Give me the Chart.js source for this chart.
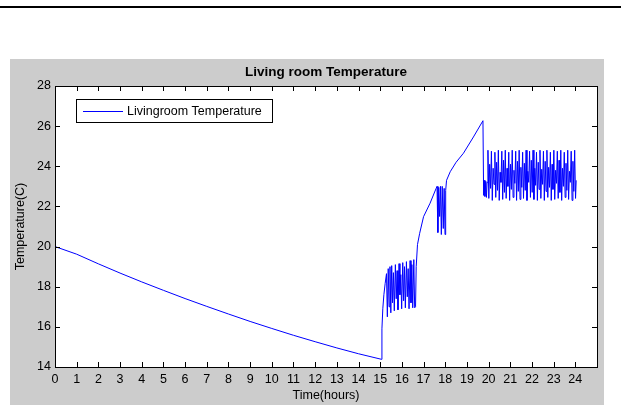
<!DOCTYPE html>
<html>
<head>
<meta charset="utf-8">
<title>Living room Temperature</title>
<script src="https://cdn.jsdelivr.net/npm/chart.js@4.4.1/dist/chart.umd.min.js"></script>
<style>
    html, body { margin: 0; padding: 0; background: #fff; }
    canvas { display: block; }
</style>
</head>
<body>
<canvas id="tempChart" width="621" height="405"></canvas>
<script>
// Text
const chartTitle = 'Living room Temperature';
const seriesLabel = 'Livingroom Temperature';
const xTitle = 'Time(hours)';
const yTitle = 'Temperature(C)';

// Tick labels
const xTicks = [0, 1, 2, 3, 4, 5, 6, 7, 8, 9, 10, 11, 12, 13, 14, 15, 16, 17, 18, 19, 20, 21, 22, 23, 24];
const yTicks = [14, 16, 18, 20, 22, 24, 26, 28];

// Night cooling, heating off
const coolingHours = [0, 1, 2, 3, 4, 5, 6, 7, 8, 9, 10, 11, 12, 13, 14, 15.07];
const coolingTemps = [20.00, 19.62, 19.14, 18.68, 18.24, 17.82, 17.41, 17.02, 16.64, 16.27, 15.92, 15.58, 15.26, 14.95, 14.66, 14.38];

// Heating switched on, first two thermostat bands, warm-up to peak
const warmupHours = [15.08, 15.12, 15.17, 15.23, 15.29,
    15.33, 15.37, 15.41, 15.45, 15.49, 15.53, 15.57, 15.61, 15.65, 15.70, 15.74, 15.78, 15.82, 15.87, 15.91,
    15.95, 15.99, 16.04, 16.08, 16.12, 16.16, 16.21, 16.25, 16.29, 16.33, 16.38, 16.42, 16.46, 16.50, 16.55, 16.59,
    16.63, 16.66, 16.72, 16.82, 17.00, 17.30, 17.58,
    17.62, 17.66, 17.70, 17.74, 17.78, 17.82, 17.86, 17.91, 17.95, 17.99, 18.02,
    18.06, 18.23, 18.50, 18.84, 19.30, 19.74, 19.77];
const warmupTemps = [15.90, 16.90, 17.60, 18.17, 18.65,
    16.50, 18.90, 17.00, 19.00, 16.70, 19.05, 17.20, 18.70, 16.80, 19.10, 17.40, 18.80, 16.85, 19.15, 17.60,
    18.60, 16.90, 19.20, 17.30, 19.00, 16.95, 19.25, 17.50, 18.90, 16.90, 19.30, 17.20, 19.10, 16.95, 19.35, 16.95,
    17.00, 19.00, 20.10, 20.66, 21.49, 22.16, 22.90,
    23.00, 20.70, 22.95, 21.50, 23.00, 20.60, 23.00, 20.90, 22.90, 20.60, 22.80,
    23.30, 23.73, 24.20, 24.65, 25.46, 26.27, 22.55];

// Evening thermostat cycling
const cycleHours = [19.80, 19.83, 19.87, 19.90, 19.93,
    19.97, 20.01, 20.05, 20.09, 20.13, 20.17, 20.21, 20.25, 20.29, 20.33, 20.37, 20.41, 20.45, 20.49, 20.53, 20.57,
    20.61, 20.65, 20.69, 20.73, 20.77, 20.81, 20.85, 20.89, 20.93, 20.97, 21.01, 21.05, 21.09, 21.13, 21.17, 21.21,
    21.25, 21.29, 21.33, 21.37, 21.41, 21.45, 21.49, 21.53, 21.57, 21.61, 21.65, 21.69, 21.73, 21.77, 21.81, 21.85,
    21.89, 21.93, 21.97, 22.01, 22.05, 22.09, 22.13, 22.17, 22.21, 22.25, 22.29, 22.33, 22.37, 22.41, 22.45, 22.49,
    22.53, 22.57, 22.61, 22.65, 22.69, 22.73, 22.77, 22.81, 22.85, 22.89, 22.93, 22.97, 23.01, 23.05, 23.09, 23.13,
    23.17, 23.21, 23.25, 23.29, 23.33, 23.37, 23.41, 23.45, 23.49, 23.53, 23.57, 23.61, 23.65, 23.69, 23.73, 23.77,
    23.81, 23.85, 23.89, 23.93, 23.97, 24.01, 24.04];
const cycleTemps = [23.30, 22.50, 23.25, 22.45, 23.20,
    24.80, 22.40, 24.10, 22.90, 24.75, 22.30, 23.90, 23.10, 24.70, 22.45, 24.20, 22.80, 24.80, 22.30, 23.70, 23.20,
    24.75, 22.35, 24.30, 22.70, 24.80, 22.40, 23.90, 23.00, 24.70, 22.30, 24.10, 22.85, 24.80, 22.45, 23.80, 23.15,
    24.75, 22.30, 24.25, 22.75, 24.80, 22.35, 23.95, 22.95, 24.70, 22.40, 24.15, 22.80, 24.80, 22.30, 23.75, 23.20,
    24.75, 22.45, 24.30, 22.70, 24.80, 22.35, 23.90, 23.05, 24.70, 22.30, 24.20, 22.85, 24.80, 22.40, 23.85, 23.10,
    24.75, 22.30, 24.25, 22.75, 24.80, 22.45, 23.95, 22.95, 24.70, 22.30, 24.10, 22.85, 24.80, 22.35, 23.80, 23.15,
    24.75, 22.40, 24.30, 22.70, 24.80, 22.30, 23.90, 23.00, 24.70, 22.45, 24.15, 22.80, 24.80, 22.35, 23.75, 23.20,
    24.75, 22.30, 24.25, 22.75, 24.80, 22.40, 23.30];

const hours = coolingHours.concat(warmupHours, cycleHours);
const temps = coolingTemps.concat(warmupTemps, cycleTemps);

const textFont = { family: 'Liberation Sans, Arial, sans-serif', size: 12.5 };
const textColor = '#000';

// Figure background, inward ticks, boxed legend (MATLAB look)
const figurePlugin = {
    id: 'figure',
    beforeDraw(chart) {
        const { ctx, chartArea: a, width, height } = chart;
        ctx.save();
        ctx.fillStyle = '#fff';
        ctx.fillRect(0, 0, width, height);
        ctx.fillStyle = '#000';
        ctx.fillRect(0, 6, width, 2);
        ctx.fillStyle = '#cccccc';
        ctx.fillRect(10, 59, 594, height - 59);
        ctx.fillStyle = '#fff';
        ctx.fillRect(a.left, a.top, a.right - a.left, a.bottom - a.top);
        ctx.restore();
    },
    afterDraw(chart) {
        const { ctx, chartArea: a, scales } = chart;
        ctx.save();
        ctx.strokeStyle = '#000';
        ctx.lineWidth = 1;
        ctx.strokeRect(a.left + 0.5, a.top + 0.5, a.right - a.left, a.bottom - a.top);

        ctx.beginPath();
        xTicks.forEach(v => {
            const px = Math.round(scales.x.getPixelForValue(v)) + 0.5;
            ctx.moveTo(px, a.bottom); ctx.lineTo(px, a.bottom - 5);
            ctx.moveTo(px, a.top); ctx.lineTo(px, a.top + 5);
        });
        yTicks.forEach(v => {
            const py = Math.round(scales.y.getPixelForValue(v)) + 0.5;
            ctx.moveTo(a.left, py); ctx.lineTo(a.left + 5, py);
            ctx.moveTo(a.right, py); ctx.lineTo(a.right - 5, py);
        });
        ctx.stroke();

        // legend box
        const ds = chart.data.datasets[0];
        const lx = a.left + 21, ly = a.top + 13;
        ctx.fillStyle = '#fff';
        ctx.fillRect(lx, ly, 196, 24);
        ctx.strokeRect(lx + 0.5, ly + 0.5, 196, 23);
        ctx.strokeStyle = ds.borderColor;
        ctx.beginPath();
        ctx.moveTo(lx + 7, ly + 12.5);
        ctx.lineTo(lx + 47, ly + 12.5);
        ctx.stroke();
        ctx.fillStyle = textColor;
        ctx.font = `${textFont.size}px ${textFont.family}`;
        ctx.textBaseline = 'middle';
        ctx.textAlign = 'left';
        ctx.fillText(ds.label, lx + 51, ly + 12.5);
        ctx.restore();
    }
};

new Chart(document.getElementById('tempChart'), {
    type: 'line',
    data: {
        datasets: [{
            label: seriesLabel,
            data: hours.map((h, i) => ({ x: h, y: temps[i] })),
            borderColor: '#0000ff',
            borderWidth: 1,
            pointRadius: 0,
            tension: 0,
            fill: false
        }]
    },
    options: {
        responsive: false,
        animation: false,
        devicePixelRatio: 1,
        layout: { padding: { top: 59, left: 0, right: 24, bottom: 0 } },
        plugins: {
            legend: { display: false },
            tooltip: { enabled: false },
            title: {
                display: true,
                text: chartTitle,
                fullSize: false,
                color: textColor,
                font: { family: textFont.family, size: 13.5, weight: 'bold', lineHeight: '16px' },
                padding: { top: 5, bottom: 6 }
            }
        },
        scales: {
            x: {
                type: 'linear',
                min: 0,
                max: 25,
                afterBuildTicks: s => { s.ticks = xTicks.map(v => ({ value: v })); },
                afterFit: s => { s.height = 38; },
                grid: { display: false, drawTicks: false },
                border: { display: false },
                ticks: { padding: 5, font: textFont, color: textColor, autoSkip: false, maxRotation: 0 },
                title: { display: true, text: xTitle, font: textFont, color: textColor, padding: { top: 0, bottom: 1.5 } }
            },
            y: {
                type: 'linear',
                min: 14,
                max: 28,
                afterBuildTicks: s => { s.ticks = yTicks.map(v => ({ value: v })); },
                afterFit: s => { s.width = 55; },
                grid: { display: false, drawTicks: false },
                border: { display: false },
                ticks: { padding: 4, font: textFont, color: textColor },
                title: { display: true, text: yTitle, font: textFont, color: textColor, padding: { top: 13, bottom: 0 } }
            }
        }
    },
    plugins: [figurePlugin]
});
</script>
</body>
</html>
